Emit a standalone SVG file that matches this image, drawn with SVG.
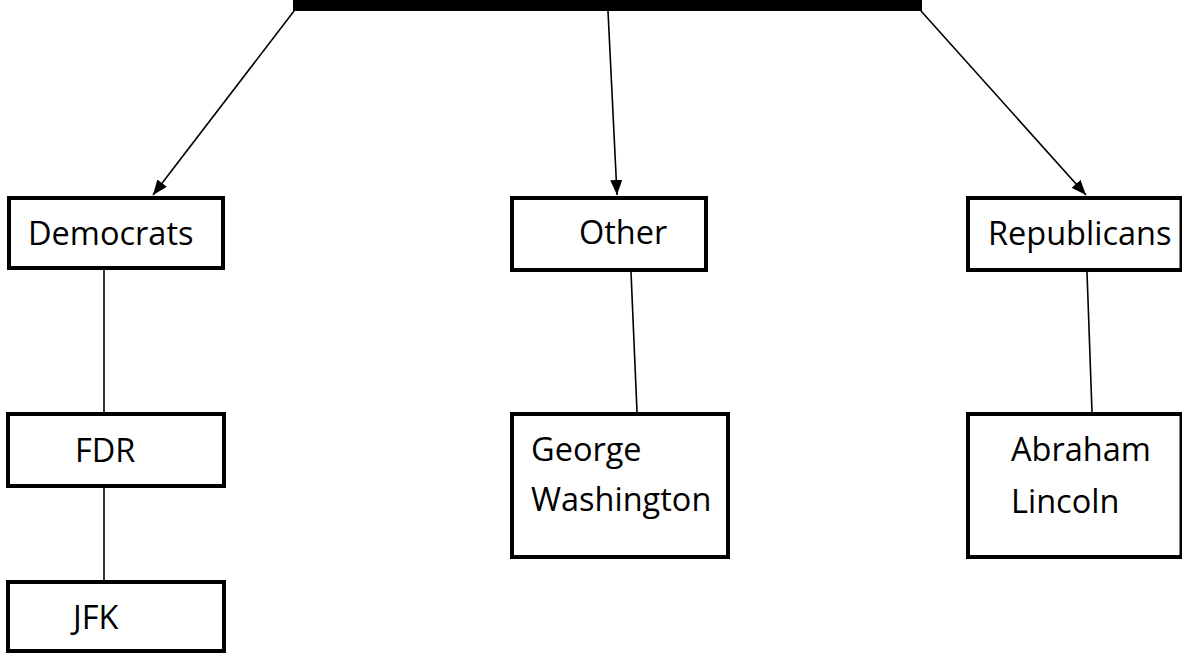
<svg xmlns="http://www.w3.org/2000/svg" width="1182" height="656" viewBox="0 0 1182 656">
<style>
.box{fill:#fff;stroke:#000;stroke-width:4}
.lbl{font-family:"Open Sans","Liberation Sans",sans-serif;font-size:32.5px;fill:#000}
.con{stroke:#000;stroke-width:1.6;fill:none}
</style>
<defs>
<marker id="ah" viewBox="0 0 15 12" refX="15" refY="6" markerWidth="15" markerHeight="12" markerUnits="userSpaceOnUse" orient="auto">
<path d="M0,0 L15,6 L0,12 z" fill="#000"/>
</marker>
</defs>
<rect width="1182" height="656" fill="#fff"/>
<g id="top"><rect x="293" y="-10" width="629" height="21" fill="#000"/></g>
<g id="connectors">
<line class="con" x1="294" y1="11" x2="153" y2="195" marker-end="url(#ah)"/>
<line class="con" x1="608" y1="11" x2="617" y2="195" marker-end="url(#ah)"/>
<line class="con" x1="921" y1="11" x2="1086" y2="195" marker-end="url(#ah)"/>
<line class="con" x1="104" y1="270" x2="104" y2="412"/>
<line class="con" x1="104" y1="488" x2="104" y2="580"/>
<line class="con" x1="631" y1="272" x2="637" y2="412"/>
<line class="con" x1="1087" y1="272" x2="1092" y2="412"/>
</g>
<g id="democrats"><rect class="box" x="9" y="198" width="214" height="70"/><text class="lbl" x="28" y="245">Democrats</text></g>
<g id="other"><rect class="box" x="512" y="198" width="194" height="72"/><text class="lbl" x="579" y="244">Other</text></g>
<g id="republicans"><rect class="box" x="968" y="198" width="213.5" height="72"/><text class="lbl" x="988" y="245">Republicans</text></g>
<g id="fdr"><rect class="box" x="8" y="414" width="216" height="72"/><text class="lbl" x="75" y="462">FDR</text></g>
<g id="jfk"><rect class="box" x="8" y="582" width="216" height="69"/><text class="lbl" x="73" y="629">JFK</text></g>
<g id="washington"><rect class="box" x="512" y="414" width="216" height="143"/><text class="lbl" x="531" y="461">George</text><text class="lbl" x="531" y="511">Washington</text></g>
<g id="lincoln"><rect class="box" x="968" y="414" width="213.5" height="143"/><text class="lbl" x="1011" y="461">Abraham</text><text class="lbl" x="1011" y="513">Lincoln</text></g>
</svg>
